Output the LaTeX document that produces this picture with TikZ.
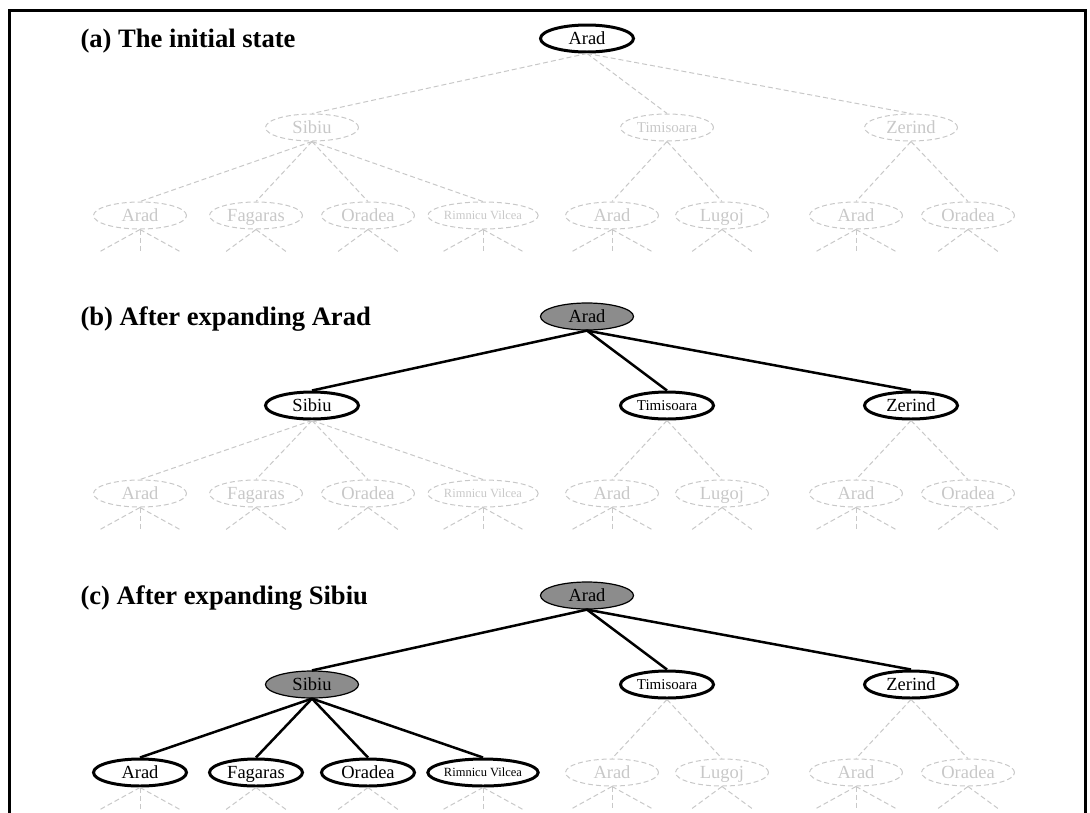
\documentclass[tikz,border=0pt]{standalone}
\usepackage{fontspec}
\setmainfont{Liberation Serif}
\usetikzlibrary{shapes.geometric}
\definecolor{ghost}{RGB}{200,200,200}
\definecolor{shade}{RGB}{140,140,140}

\begin{document}
\begin{tikzpicture}[x=1pt, y=-1pt,
      city/.style = {ellipse, minimum width=93pt, minimum height=27pt,
                     inner sep=0pt, text height=14pt, text depth=2pt,
                     font=\fontsize{18.5}{20}\selectfont},% every state node
    unseen/.style = {city, draw=ghost, text=ghost, line width=1pt,
                     dash pattern=on 5pt off 3pt},
  frontier/.style = {city, draw, line width=3pt},
  expanded/.style = {city, draw, fill=shade, line width=1.2pt},
 ghostline/.style = {draw=ghost, line width=1pt, dash pattern=on 5pt off 3pt},
  treeline/.style = {draw, line width=2.5pt},
   midtext/.style = {font=\fontsize{15}{16}\selectfont, text height=12pt},
 smalltext/.style = {font=\fontsize{12.5}{13}\selectfont, text height=10.5pt},
     title/.style = {anchor=base west, font=\bfseries\fontsize{26.6}{30}\selectfont},
                        ]
\useasboundingbox (0,0) rectangle (1090,812);
\clip (0,0) rectangle (1090,812);
\draw[line width=3pt] (9.5,10) rectangle (1085,840);
% one panel per stage of the search
\foreach \p/\dy/\rt/\sb/\ot/\lf/\up/\dn/\ttl in {
    a/0/frontier/unseen/unseen/unseen/ghostline/ghostline/{(a) The initial state},
    b/278/expanded/frontier/frontier/unseen/treeline/ghostline/{(b) After expanding Arad},
    c/557/expanded/expanded/frontier/frontier/treeline/treeline/{(c) After expanding Sibiu}}
{
\begin{scope}[shift={(0,\dy)}]
\node[title] (\p-title) at (77,47.5) {\ttl};
\node[\rt] (\p-arad) at (587,38.5) {Arad};
\node[\sb] (\p-sibiu) at (312,127.5) {Sibiu};
\node[\ot, midtext] (\p-timisoara) at (667,127.5) {Timisoara};
\node[\ot] (\p-zerind) at (911,127.5) {Zerind};
\node[\lf] (\p-arad2) at (140,215.5) {Arad};
\node[\lf] (\p-fagaras) at (256,215.5) {Fagaras};
\node[\lf] (\p-oradea) at (368,215.5) {Oradea};
\node[\lf, smalltext] (\p-rimnicu) at (483,215.5) {Rimnicu Vilcea};
\node[unseen] (\p-arad3) at (612,215.5) {Arad};
\node[unseen] (\p-lugoj) at (722,215.5) {Lugoj};
\node[unseen] (\p-arad4) at (856,215.5) {Arad};
\node[unseen] (\p-oradea2) at (968,215.5) {Oradea};
\foreach \c in {sibiu,timisoara,zerind}
    \draw[\up] (\p-arad.south) -- (\p-\c.north);
\foreach \c in {arad2,fagaras,oradea,rimnicu}
    \draw[\dn] (\p-sibiu.south) -- (\p-\c.north);
\foreach \c in {arad3,lugoj}
    \draw[ghostline] (\p-timisoara.south) -- (\p-\c.north);
\foreach \c in {arad4,oradea2}
    \draw[ghostline] (\p-zerind.south) -- (\p-\c.north);
% unexplored successors below the leaves
\foreach \c in {arad2,rimnicu,arad3,arad4}{
    \draw[ghostline] (\p-\c.south) -- ++(-40,22) coordinate (\p-\c-w);
    \draw[ghostline] (\p-\c.south) -- ++(0,22) coordinate (\p-\c-m);
    \draw[ghostline] (\p-\c.south) -- ++(40,22) coordinate (\p-\c-e);
}
\foreach \c in {fagaras,oradea,lugoj,oradea2}{
    \draw[ghostline] (\p-\c.south) -- ++(-30,22) coordinate (\p-\c-w);
    \draw[ghostline] (\p-\c.south) -- ++(30,22) coordinate (\p-\c-e);
}
\end{scope}
}
\end{tikzpicture}
\end{document}
